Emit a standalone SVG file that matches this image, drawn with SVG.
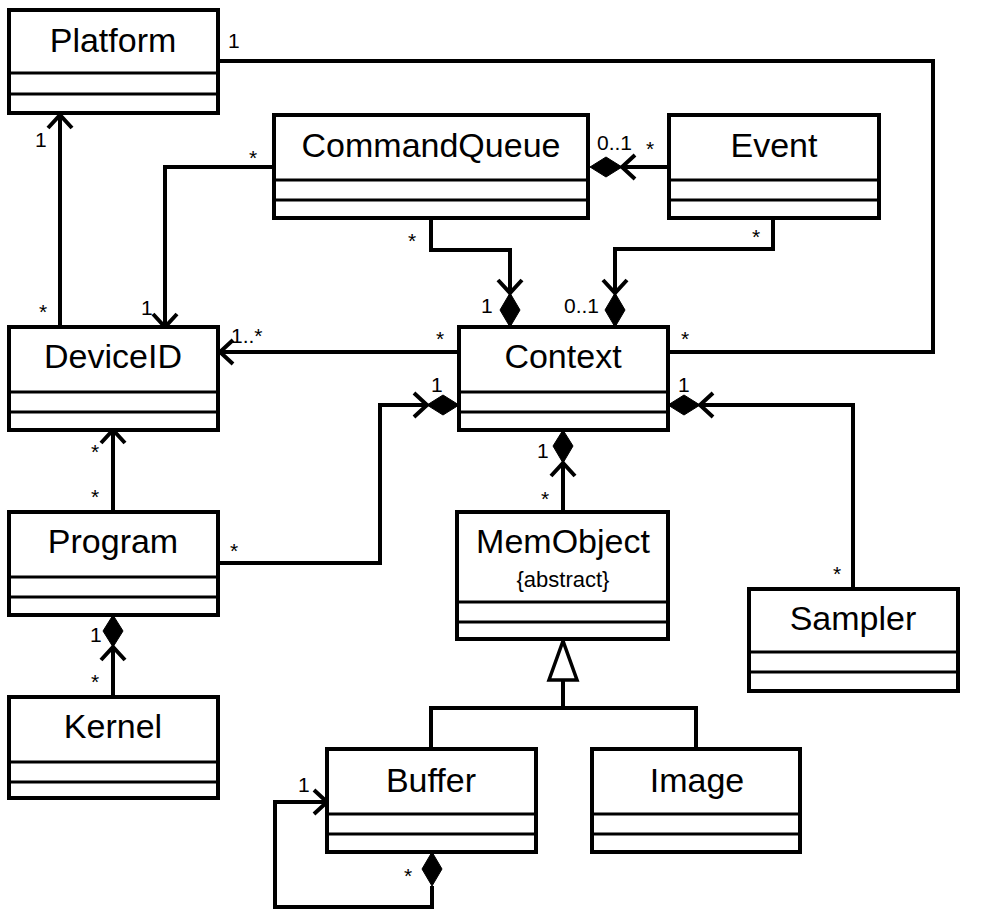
<svg xmlns="http://www.w3.org/2000/svg" width="981" height="917" viewBox="0 0 981 917">
<style>
.box{fill:#fff;stroke:#000;stroke-width:4}
.div{stroke:#000;stroke-width:3}
.name{font-family:"Liberation Sans",Arial,sans-serif;font-size:34px;text-anchor:middle;fill:#000}
.sub{font-family:"Liberation Sans",Arial,sans-serif;font-size:22px;text-anchor:middle;fill:#000}
.lbl{font-family:"Liberation Sans",Arial,sans-serif;font-size:21px;fill:#000}
.ln{fill:none;stroke:#000;stroke-width:4;stroke-linejoin:miter}
.dia{fill:#000;stroke:#000;stroke-width:1}
.tri{fill:#fff;stroke:#000;stroke-width:3.5;stroke-linejoin:miter}
</style>
<rect width="981" height="917" fill="#fff"/>
<g id="connectors">
  <!-- Platform - Context -->
  <path class="ln" d="M218 61 H933 V352 H668"/>
  <text class="lbl" x="228" y="48">1</text>
  <text class="lbl" x="681" y="346">*</text>
  <!-- Context -> DeviceID -->
  <path class="ln" d="M459 352 H220"/>
  <path class="ln" d="M233 340 L220 352 L233 364"/>
  <text class="lbl" x="231" y="343">1..*</text>
  <text class="lbl" x="436" y="346">*</text>
  <!-- DeviceID -> Platform -->
  <path class="ln" d="M60 327 V115"/>
  <path class="ln" d="M48 128 L60 115 L72 128"/>
  <text class="lbl" x="35" y="147">1</text>
  <text class="lbl" x="39" y="319">*</text>
  <!-- CommandQueue -> DeviceID -->
  <path class="ln" d="M274 167 H165 V327"/>
  <path class="ln" d="M153 314 L165 327 L177 314"/>
  <text class="lbl" x="249" y="165">*</text>
  <text class="lbl" x="141" y="315">1</text>
  <!-- Event -> CommandQueue -->
  <path class="ln" d="M669 167 H622"/>
  <polygon class="dia" points="590,167 606,157 622,167 606,177"/>
  <path class="ln" d="M635 155 L622 167 L635 179"/>
  <text class="lbl" x="597" y="150">0..1</text>
  <text class="lbl" x="646" y="156">*</text>
  <!-- CommandQueue -> Context -->
  <path class="ln" d="M431 220 V250 H510 V293"/>
  <polygon class="dia" points="510,327 520,310 510,293 500,310"/>
  <path class="ln" d="M498 280 L510 293 L522 280"/>
  <text class="lbl" x="408" y="248">*</text>
  <text class="lbl" x="481" y="313">1</text>
  <!-- Event -> Context -->
  <path class="ln" d="M773 220 V249 H615 V293"/>
  <polygon class="dia" points="615,327 625,310 615,293 605,310"/>
  <path class="ln" d="M603 280 L615 293 L627 280"/>
  <text class="lbl" x="752" y="244">*</text>
  <text class="lbl" x="564" y="313">0..1</text>
  <!-- Program -> DeviceID -->
  <path class="ln" d="M113 512 V430"/>
  <path class="ln" d="M101 443 L113 430 L125 443"/>
  <text class="lbl" x="91" y="459">*</text>
  <text class="lbl" x="91" y="504">*</text>
  <!-- Program -> Context -->
  <path class="ln" d="M218 563 H380 V405 H427"/>
  <polygon class="dia" points="459,405 443,395 427,405 443,415"/>
  <path class="ln" d="M414 393 L427 405 L414 417"/>
  <text class="lbl" x="431" y="392">1</text>
  <text class="lbl" x="230" y="558">*</text>
  <!-- Kernel -> Program -->
  <path class="ln" d="M113 697 V647"/>
  <polygon class="dia" points="113,615 123,631 113,647 103,631"/>
  <path class="ln" d="M101 660 L113 647 L125 660"/>
  <text class="lbl" x="90" y="642">1</text>
  <text class="lbl" x="91" y="689">*</text>
  <!-- MemObject -> Context -->
  <path class="ln" d="M563 512 V463"/>
  <polygon class="dia" points="563,430 573,446 563,463 553,446"/>
  <path class="ln" d="M551 476 L563 463 L575 476"/>
  <text class="lbl" x="537" y="458">1</text>
  <text class="lbl" x="541" y="506">*</text>
  <!-- Sampler -> Context -->
  <path class="ln" d="M853 589 V405 H700"/>
  <polygon class="dia" points="668,405 684,395 700,405 684,415"/>
  <path class="ln" d="M713 393 L700 405 L713 417"/>
  <text class="lbl" x="678" y="392">1</text>
  <text class="lbl" x="833" y="581">*</text>
  <!-- Generalization -->
  <path class="ln" d="M431 749 V708 H696 V749"/>
  <path class="ln" d="M563 708 V680"/>
  <polygon class="tri" points="563,641 549,680 577,680"/>
  <!-- Buffer self association -->
  <polygon class="dia" points="432,852 442,869 432,886 422,869"/>
  <path class="ln" d="M432 886 V907 H275 V802 H327"/>
  <path class="ln" d="M314 790 L327 802 L314 814"/>
  <text class="lbl" x="298" y="792">1</text>
  <text class="lbl" x="404" y="883">*</text>
</g>
<g id="Platform">
  <rect class="box" x="9" y="10" width="209" height="103"/>
  <line class="div" x1="9" y1="73" x2="218" y2="73"/>
  <line class="div" x1="9" y1="94" x2="218" y2="94"/>
  <text class="name" x="113" y="52">Platform</text>
</g>
<g id="CommandQueue">
  <rect class="box" x="274" y="115" width="314" height="103"/>
  <line class="div" x1="274" y1="180" x2="588" y2="180"/>
  <line class="div" x1="274" y1="200" x2="588" y2="200"/>
  <text class="name" x="431" y="157">CommandQueue</text>
</g>
<g id="Event">
  <rect class="box" x="669" y="115" width="210" height="103"/>
  <line class="div" x1="669" y1="180" x2="879" y2="180"/>
  <line class="div" x1="669" y1="200" x2="879" y2="200"/>
  <text class="name" x="774" y="157">Event</text>
</g>
<g id="DeviceID">
  <rect class="box" x="9" y="327" width="209" height="103"/>
  <line class="div" x1="9" y1="392" x2="218" y2="392"/>
  <line class="div" x1="9" y1="412" x2="218" y2="412"/>
  <text class="name" x="113" y="368">DeviceID</text>
</g>
<g id="Context">
  <rect class="box" x="459" y="327" width="209" height="103"/>
  <line class="div" x1="459" y1="392" x2="668" y2="392"/>
  <line class="div" x1="459" y1="412" x2="668" y2="412"/>
  <text class="name" x="563" y="368">Context</text>
</g>
<g id="Program">
  <rect class="box" x="9" y="512" width="209" height="103"/>
  <line class="div" x1="9" y1="577" x2="218" y2="577"/>
  <line class="div" x1="9" y1="597" x2="218" y2="597"/>
  <text class="name" x="113" y="553">Program</text>
</g>
<g id="Kernel">
  <rect class="box" x="9" y="697" width="209" height="101"/>
  <line class="div" x1="9" y1="762" x2="218" y2="762"/>
  <line class="div" x1="9" y1="782" x2="218" y2="782"/>
  <text class="name" x="113" y="738">Kernel</text>
</g>
<g id="MemObject">
  <rect class="box" x="457" y="512" width="211" height="127"/>
  <line class="div" x1="457" y1="602" x2="668" y2="602"/>
  <line class="div" x1="457" y1="622" x2="668" y2="622"/>
  <text class="name" x="563" y="553">MemObject</text>
  <text class="sub" x="563" y="587">{abstract}</text>
</g>
<g id="Sampler">
  <rect class="box" x="749" y="589" width="209" height="102"/>
  <line class="div" x1="749" y1="652" x2="958" y2="652"/>
  <line class="div" x1="749" y1="672" x2="958" y2="672"/>
  <text class="name" x="853" y="630">Sampler</text>
</g>
<g id="Buffer">
  <rect class="box" x="327" y="749" width="209" height="103"/>
  <line class="div" x1="327" y1="814" x2="536" y2="814"/>
  <line class="div" x1="327" y1="834" x2="536" y2="834"/>
  <text class="name" x="431" y="792">Buffer</text>
</g>
<g id="Image">
  <rect class="box" x="592" y="749" width="208" height="103"/>
  <line class="div" x1="592" y1="814" x2="800" y2="814"/>
  <line class="div" x1="592" y1="834" x2="800" y2="834"/>
  <text class="name" x="697" y="792">Image</text>
</g>
</svg>
